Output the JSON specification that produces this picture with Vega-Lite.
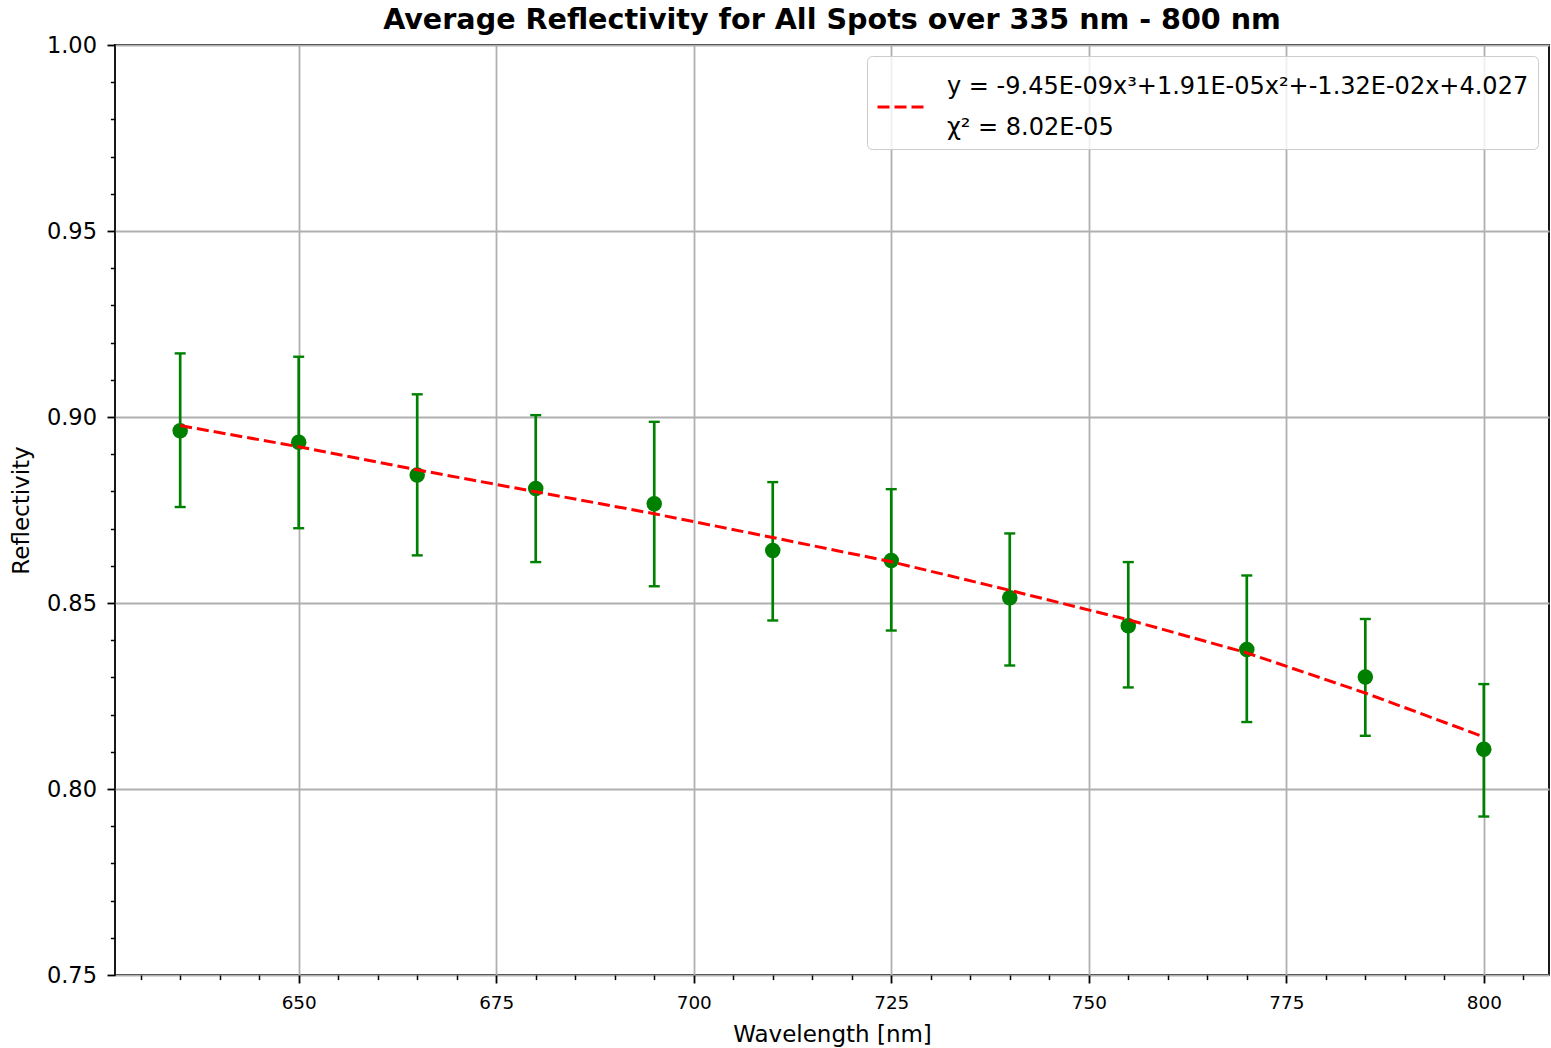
{
  "$schema": "https://vega.github.io/schema/vega-lite/v6.json",
  "width": 1434,
  "height": 930,
  "autosize": {"type": "none"},
  "padding": {"left": 115, "top": 45, "right": 2, "bottom": 73},
  "background": "white",
  "title": {
    "text": "Average Reflectivity for All Spots over 335 nm - 800 nm",
    "font": "DejaVu Sans",
    "fontSize": 28.6,
    "fontWeight": "bold",
    "color": "#000000",
    "anchor": "middle",
    "baseline": "alphabetic",
    "offset": 3,
    "dy": 27
  },
  "config": {
    "view": {"stroke": "#000000", "strokeWidth": 1.8},
    "axis": {
      "labelFont": "DejaVu Sans",
      "titleFont": "DejaVu Sans",
      "labelColor": "#000000",
      "titleColor": "#000000",
      "tickColor": "#000000",
      "titleFontWeight": "normal",
      "domain": false
    }
  },
  "datasets": {
    "obs": [
      {"wavelength": 635, "reflectivity": 0.8963, "lower": 0.8758, "upper": 0.9171},
      {"wavelength": 650, "reflectivity": 0.8932, "lower": 0.8701, "upper": 0.9162},
      {"wavelength": 665, "reflectivity": 0.8844, "lower": 0.8628, "upper": 0.9061},
      {"wavelength": 680, "reflectivity": 0.8808, "lower": 0.8610, "upper": 0.9005},
      {"wavelength": 695, "reflectivity": 0.8767, "lower": 0.8545, "upper": 0.8987},
      {"wavelength": 710, "reflectivity": 0.8641, "lower": 0.8453, "upper": 0.8825},
      {"wavelength": 725, "reflectivity": 0.8614, "lower": 0.8426, "upper": 0.8806},
      {"wavelength": 740, "reflectivity": 0.8514, "lower": 0.8332, "upper": 0.8687},
      {"wavelength": 755, "reflectivity": 0.8439, "lower": 0.8273, "upper": 0.8610},
      {"wavelength": 770, "reflectivity": 0.8375, "lower": 0.8180, "upper": 0.8574},
      {"wavelength": 785, "reflectivity": 0.8301, "lower": 0.8143, "upper": 0.8457},
      {"wavelength": 800, "reflectivity": 0.8107, "lower": 0.7926, "upper": 0.8282}
    ],
    "fit": [
      {"wavelength": 635, "fit": 0.8977},
      {"wavelength": 650, "fit": 0.8920},
      {"wavelength": 665, "fit": 0.8858},
      {"wavelength": 680, "fit": 0.8799},
      {"wavelength": 695, "fit": 0.8740},
      {"wavelength": 710, "fit": 0.8676},
      {"wavelength": 725, "fit": 0.8611},
      {"wavelength": 740, "fit": 0.8534},
      {"wavelength": 755, "fit": 0.8455},
      {"wavelength": 770, "fit": 0.8366},
      {"wavelength": 785, "fit": 0.8258},
      {"wavelength": 800, "fit": 0.8140}
    ]
  },
  "layer": [
    {
      "data": {"name": "obs"},
      "mark": {"type": "rule", "color": "#008000", "strokeWidth": 2.7},
      "encoding": {
        "x": {
          "field": "wavelength",
          "type": "quantitative",
          "scale": {"domain": [626.75, 808.25], "nice": false, "zero": false},
          "axis": {
            "orient": "bottom",
            "values": [650, 675, 700, 725, 750, 775, 800],
            "format": "d",
            "grid": true,
            "gridColor": "#b0b0b0",
            "gridWidth": 1.8,
            "tickSize": 8,
            "tickWidth": 1.8,
            "labelFontSize": 18.4,
            "labelPadding": 10,
            "title": "Wavelength [nm]",
            "titleFontSize": 23,
            "titlePadding": 12
          }
        },
        "y": {
          "field": "lower",
          "type": "quantitative",
          "scale": {"domain": [0.75, 1.0], "nice": false, "zero": false},
          "axis": {
            "orient": "left",
            "values": [0.75, 0.8, 0.85, 0.9, 0.95, 1.0],
            "format": ".2f",
            "grid": true,
            "gridColor": "#b0b0b0",
            "gridWidth": 1.8,
            "tickSize": 8,
            "tickWidth": 1.8,
            "labelFontSize": 22.5,
            "labelPadding": 10.5,
            "title": "Reflectivity",
            "titleFontSize": 23,
            "titlePadding": 13
          }
        },
        "y2": {"field": "upper"}
      }
    },
    {
      "data": {"name": "obs"},
      "mark": {"type": "tick", "orient": "horizontal", "size": 11, "thickness": 2.4, "color": "#008000", "opacity": 1},
      "encoding": {
        "x": {
          "field": "wavelength",
          "type": "quantitative",
          "axis": {
            "orient": "bottom",
            "values": [630, 635, 640, 645, 655, 660, 665, 670, 680, 685, 690, 695, 705, 710, 715, 720, 730, 735, 740, 745, 755, 760, 765, 770, 780, 785, 790, 795, 805],
            "labels": false,
            "grid": false,
            "tickSize": 4.6,
            "tickWidth": 1.5,
            "title": null
          }
        },
        "y": {
          "field": "lower",
          "type": "quantitative",
          "axis": {
            "orient": "left",
            "values": [0.76, 0.77, 0.78, 0.79, 0.81, 0.82, 0.83, 0.84, 0.86, 0.87, 0.88, 0.89, 0.91, 0.92, 0.93, 0.94, 0.96, 0.97, 0.98, 0.99],
            "labels": false,
            "grid": false,
            "tickSize": 4.6,
            "tickWidth": 1.5,
            "title": null
          }
        }
      }
    },
    {
      "data": {"name": "obs"},
      "mark": {"type": "tick", "orient": "horizontal", "size": 11, "thickness": 2.4, "color": "#008000", "opacity": 1},
      "encoding": {
        "x": {"field": "wavelength", "type": "quantitative", "axis": null},
        "y": {"field": "upper", "type": "quantitative", "axis": null}
      }
    },
    {
      "data": {"name": "obs"},
      "mark": {"type": "circle", "size": 240, "color": "#008000", "opacity": 1},
      "encoding": {
        "x": {"field": "wavelength", "type": "quantitative", "axis": null},
        "y": {"field": "reflectivity", "type": "quantitative", "axis": null}
      }
    },
    {
      "data": {"name": "fit"},
      "mark": {"type": "line", "strokeWidth": 3, "strokeDash": [12, 5]},
      "encoding": {
        "x": {"field": "wavelength", "type": "quantitative", "axis": null},
        "y": {"field": "fit", "type": "quantitative", "axis": null},
        "color": {
          "datum": "fit",
          "type": "nominal",
          "scale": {"range": ["#ff0000"]},
          "legend": {
            "title": null,
            "orient": "top-right",
            "offset": 11,
            "padding": 9,
            "fillColor": "rgba(255,255,255,0.8)",
            "strokeColor": "#cccccc",
            "cornerRadius": 5,
            "symbolType": "stroke",
            "symbolSize": 2304,
            "symbolStrokeWidth": 3,
            "symbolDash": [12, 5],
            "symbolStrokeColor": "#ff0000",
            "labelFont": "DejaVu Sans",
            "labelFontSize": 24,
            "labelColor": "#000000",
            "labelLimit": 1000,
            "labelOffset": 20,
            "labelExpr": "['y = -9.45E-09x³+1.91E-05x²+-1.32E-02x+4.027', 'χ² = 8.02E-05']",
            "encode": {
              "labels": {"update": {"lineHeight": {"value": 41}, "y": {"value": 42}, "dy": {"value": -20.5}}},
              "symbols": {"update": {"y": {"value": 42}}}
            }
          }
        }
      }
    }
  ],
  "resolve": {"axis": {"x": "independent", "y": "independent"}}
}
